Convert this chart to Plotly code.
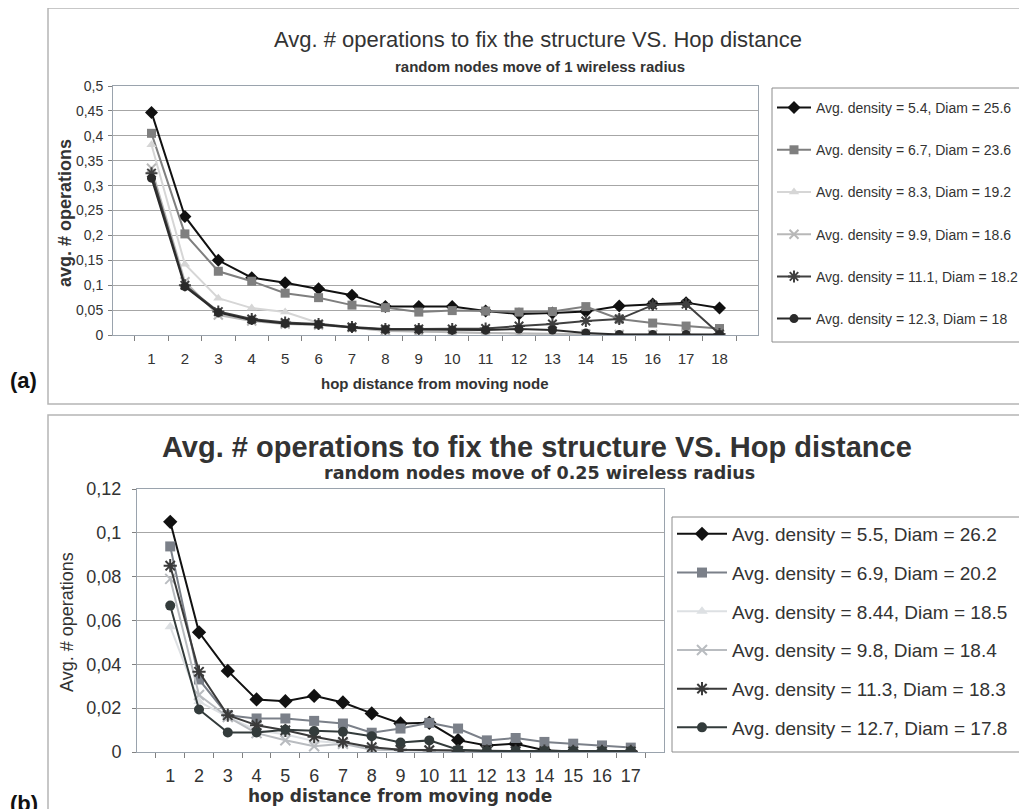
import plotly.graph_objects as go

W, H = 1027, 809
OFF = 8  # the page body margin shifts the figure by 8px

# ---------------- data: chart (a) ----------------
hops_a = ["1", "2", "3", "4", "5", "6", "7", "8", "9", "10", "11", "12", "13", "14", "15", "16", "17", "18"]
names_a = ["Avg. density = 5.4, Diam = 25.6", "Avg. density = 6.7, Diam = 23.6",
           "Avg. density = 8.3, Diam = 19.2", "Avg. density = 9.9, Diam = 18.6",
           "Avg. density = 11.1, Diam = 18.2", "Avg. density = 12.3, Diam = 18"]
a_d54 = [0.447, 0.238, 0.150, 0.115, 0.105, 0.093, 0.080, 0.057, 0.057, 0.057, 0.048, 0.042, 0.044, 0.047, 0.058, 0.062, 0.065, 0.054]
a_d67 = [0.405, 0.203, 0.128, 0.108, 0.084, 0.075, 0.060, 0.055, 0.046, 0.049, 0.048, 0.046, 0.047, 0.057, 0.032, 0.024, 0.018, 0.013]
a_d83 = [0.382, 0.142, 0.074, 0.054, 0.046, 0.024, 0.014, 0.009, 0.007, 0.005, 0.004, 0.003, 0.002, 0.002, 0.001, 0.001, 0.001, 0.000]
a_d99 = [0.335, 0.107, 0.040, 0.028, 0.022, 0.020, 0.015, 0.008, 0.007, 0.005, 0.004, 0.003, 0.002, 0.002, 0.001, 0.001, 0.001, 0.000]
a_d111 = [0.325, 0.100, 0.047, 0.032, 0.025, 0.022, 0.016, 0.012, 0.012, 0.012, 0.013, 0.018, 0.022, 0.028, 0.032, 0.060, 0.062, 0.002]
a_d123 = [0.315, 0.097, 0.045, 0.030, 0.023, 0.021, 0.015, 0.011, 0.011, 0.010, 0.010, 0.012, 0.010, 0.004, 0.001, 0.001, 0.001, 0.001]
a_yticks = [0, 0.05, 0.1, 0.15, 0.2, 0.25, 0.3, 0.35, 0.4, 0.45, 0.5]
a_ylabels = ["0", "0,05", "0,1", "0,15", "0,2", "0,25", "0,3", "0,35", "0,4", "0,45", "0,5"]

# ---------------- data: chart (b) ----------------
hops_b = ["1", "2", "3", "4", "5", "6", "7", "8", "9", "10", "11", "12", "13", "14", "15", "16", "17"]
names_b = ["Avg. density = 5.5, Diam = 26.2", "Avg. density = 6.9, Diam = 20.2",
           "Avg. density = 8.44, Diam = 18.5", "Avg. density = 9.8, Diam = 18.4",
           "Avg. density = 11.3, Diam = 18.3", "Avg. density = 12.7, Diam = 17.8"]
b_d55 = [0.105, 0.0546, 0.037, 0.024, 0.0232, 0.0256, 0.0226, 0.0176, 0.013, 0.0133, 0.0054, 0.003, 0.0038, 0.0008, 0.0002, 0.0002, 0.0002]
b_d69 = [0.0938, 0.0331, 0.0168, 0.0153, 0.0153, 0.0142, 0.013, 0.0088, 0.0107, 0.0133, 0.0107, 0.0053, 0.0064, 0.0046, 0.0038, 0.003, 0.002]
b_d844 = [0.0572, 0.023, 0.016, 0.010, 0.008, 0.005, 0.004, 0.002, 0.001, 0.001, 0.0005, 0.0003, 0.0003, 0.0002, 0.0002, 0.0002, 0.0002]
b_d98 = [0.079, 0.026, 0.016, 0.0086, 0.0054, 0.0026, 0.0038, 0.001, 0.0008, 0.0005, 0.0003, 0.0002, 0.0002, 0.0002, 0.0002, 0.0002, 0.0002]
b_d113 = [0.085, 0.0366, 0.0168, 0.0122, 0.0099, 0.007, 0.0046, 0.0022, 0.001, 0.0008, 0.0005, 0.0004, 0.0004, 0.0004, 0.0003, 0.0003, 0.0003]
b_d127 = [0.0668, 0.0194, 0.0089, 0.0089, 0.0101, 0.0096, 0.0092, 0.0072, 0.0043, 0.0053, 0.001, 0.0005, 0.0005, 0.0005, 0.0005, 0.0005, 0.0005]
b_yticks = [0, 0.02, 0.04, 0.06, 0.08, 0.1, 0.12]
b_ylabels = ["0", "0,02", "0,04", "0,06", "0,08", "0,1", "0,12"]


def px(x):
    return (x - OFF) / W


def py(y):
    return 1 - (y - OFF) / H


SANS = "Liberation Sans, Arial, sans-serif"
WIDE_B = "DejaVu Sans, Verdana, sans-serif"
TXT = "#333333"

styles_a = [
    dict(symbol="diamond", size=10, color="#111111"),
    dict(symbol="square", size=9, color="#7f7f7f"),
    dict(symbol="triangle-up", size=9, color="#d6d6d6"),
    dict(symbol="x-thin-open", size=9, color="#b8b8b8"),
    dict(symbol="asterisk-open", size=10, color="#404040"),
    dict(symbol="circle", size=9, color="#2a2a2a"),
]
styles_b = [
    dict(symbol="diamond", size=11, color="#111111"),
    dict(symbol="square", size=10, color="#7b8089"),
    dict(symbol="triangle-up", size=10, color="#dde0e3"),
    dict(symbol="x-thin-open", size=10, color="#b9bcc0"),
    dict(symbol="asterisk-open", size=11, color="#3a3a3a"),
    dict(symbol="circle", size=10, color="#333b3b"),
]

fig = go.Figure()


def add_series(names, series, styles, hops, xa, ya, leg, grp):
    for i, (nm, ys, st) in enumerate(zip(names, series, styles)):
        openm = st["symbol"].endswith("open")
        fig.add_trace(go.Scatter(
            x=hops, y=ys, name=nm, mode="lines+markers",
            xaxis=xa, yaxis=ya, legend=leg, legendgroup="%s%d" % (grp, i),
            line=dict(color=st["color"], width=2),
            marker=dict(symbol=st["symbol"], size=st["size"], color=st["color"],
                        line=dict(color=st["color"], width=2 if openm else 0)),
        ))


add_series(names_a, [a_d54, a_d67, a_d83, a_d99, a_d111, a_d123], styles_a, hops_a, "x", "y", "legend", "a")
add_series(names_b, [b_d55, b_d69, b_d844, b_d98, b_d113, b_d127], styles_b, hops_b, "x2", "y2", "legend2", "b")

fig.update_layout(
    width=W, height=H,
    margin=dict(l=0, r=0, t=0, b=0, autoexpand=False),
    paper_bgcolor="white", plot_bgcolor="white",
    showlegend=True,
    xaxis=dict(domain=[px(113), px(758)], anchor="y", type="category",
               tickson="boundaries", ticks="outside", ticklen=5, tickcolor="#808080",
               linecolor="#9aa3ad", linewidth=1, showgrid=False, ticklabelstandoff=10,
               tickangle=0, tickfont=dict(family=SANS, size=15, color=TXT),
               showline=True, mirror=True, zeroline=False),
    yaxis=dict(domain=[py(335), py(86)], anchor="x", range=[0, 0.5],
               tickvals=a_yticks, ticktext=a_ylabels, ticks="outside", ticklen=4,
               tickcolor="#808080", linecolor="#9aa3ad", linewidth=1, ticklabelstandoff=2,
               gridcolor="#a6a6a6", gridwidth=1, showline=True, mirror=True, zeroline=False,
               tickfont=dict(family=SANS, size=14, color=TXT)),
    xaxis2=dict(domain=[px(137), px(664)], anchor="y2", type="category",
                tickson="boundaries", ticks="outside", ticklen=5, tickcolor="#808080",
                linecolor="#9aa3ad", linewidth=1, showgrid=False, ticklabelstandoff=7,
                tickangle=0, tickfont=dict(family=SANS, size=18, color=TXT),
                showline=True, mirror=True, zeroline=False),
    yaxis2=dict(domain=[py(752), py(489)], anchor="x2", range=[0, 0.12],
                tickvals=b_yticks, ticktext=b_ylabels, ticks="outside", ticklen=4,
                tickcolor="#808080", linecolor="#9aa3ad", linewidth=1, ticklabelstandoff=7,
                gridcolor="#a6a6a6", gridwidth=1, showline=True, mirror=True, zeroline=False,
                tickfont=dict(family=SANS, size=18, color=TXT)),
    legend=dict(x=px(772), y=py(92), xanchor="left", yanchor="top",
                borderwidth=0, bgcolor="rgba(0,0,0,0)",
                tracegroupgap=21, itemwidth=34,
                font=dict(family=SANS, size=14, color=TXT)),
    legend2=dict(x=px(672), y=py(515), xanchor="left", yanchor="top",
                 borderwidth=0, bgcolor="rgba(0,0,0,0)",
                 tracegroupgap=11, itemwidth=50,
                 font=dict(family=SANS, size=19, color=TXT)),
)

annotations = [
    dict(text="Avg. # operations to fix the structure VS. Hop distance", x=px(538), y=py(40),
         font=dict(family=SANS, size=22, color=TXT)),
    dict(text="<b>random nodes move of 1 wireless radius</b>", x=px(540), y=py(67),
         font=dict(family=SANS, size=15, color=TXT)),
    dict(text="<b>hop distance from moving node</b>", x=px(435), y=py(383),
         font=dict(family=SANS, size=15, color=TXT)),
    dict(text="<b>avg. # operations</b>", x=px(65), y=py(213), textangle=-90,
         font=dict(family=SANS, size=18, color=TXT)),
    dict(text="<b>Avg. # operations to fix the structure VS. Hop distance</b>", x=px(537), y=py(447),
         font=dict(family=SANS, size=29, color=TXT)),
    dict(text="<b>random nodes move of 0.25 wireless radius</b>", x=px(539), y=py(473),
         font=dict(family=WIDE_B, size=17.5, color=TXT)),
    dict(text="<b>hop distance from moving node</b>", x=px(400), y=py(796),
         font=dict(family=WIDE_B, size=17, color=TXT)),
    dict(text="Avg. # operations", x=px(67), y=py(622), textangle=-90,
         font=dict(family=SANS, size=18, color=TXT)),
    dict(text="<b>(a)</b>", x=px(8), y=py(381), xanchor="left",
         font=dict(family=SANS, size=22, color="#111111")),
    dict(text="<b>(b)</b>", x=px(8), y=py(803), xanchor="left",
         font=dict(family=SANS, size=22, color="#111111")),
]
for a in annotations:
    a.setdefault("xanchor", "center")
    a.update(xref="paper", yref="paper", yanchor="middle", showarrow=False)
fig.update_layout(annotations=annotations)

# chart frames and legend boxes
fig.update_layout(shapes=[
    dict(type="rect", xref="paper", yref="paper", x0=px(48), x1=px(1045), y0=py(404), y1=py(8),
         line=dict(color="#b5b5b5", width=1.5), fillcolor="rgba(0,0,0,0)", layer="below"),
    dict(type="rect", xref="paper", yref="paper", x0=px(48), x1=px(1045), y0=py(840), y1=py(415),
         line=dict(color="#b5b5b5", width=1.5), fillcolor="rgba(0,0,0,0)", layer="below"),
    dict(type="rect", xref="paper", yref="paper", x0=px(772), x1=px(1022), y0=py(342), y1=py(88),
         line=dict(color="#8c8c8c", width=1), fillcolor="rgba(0,0,0,0)", layer="below"),
    dict(type="rect", xref="paper", yref="paper", x0=px(672), x1=px(1045), y0=py(752), y1=py(517),
         line=dict(color="#8c8c8c", width=1), fillcolor="rgba(0,0,0,0)", layer="below"),
])

fig.write_html("out.html")
